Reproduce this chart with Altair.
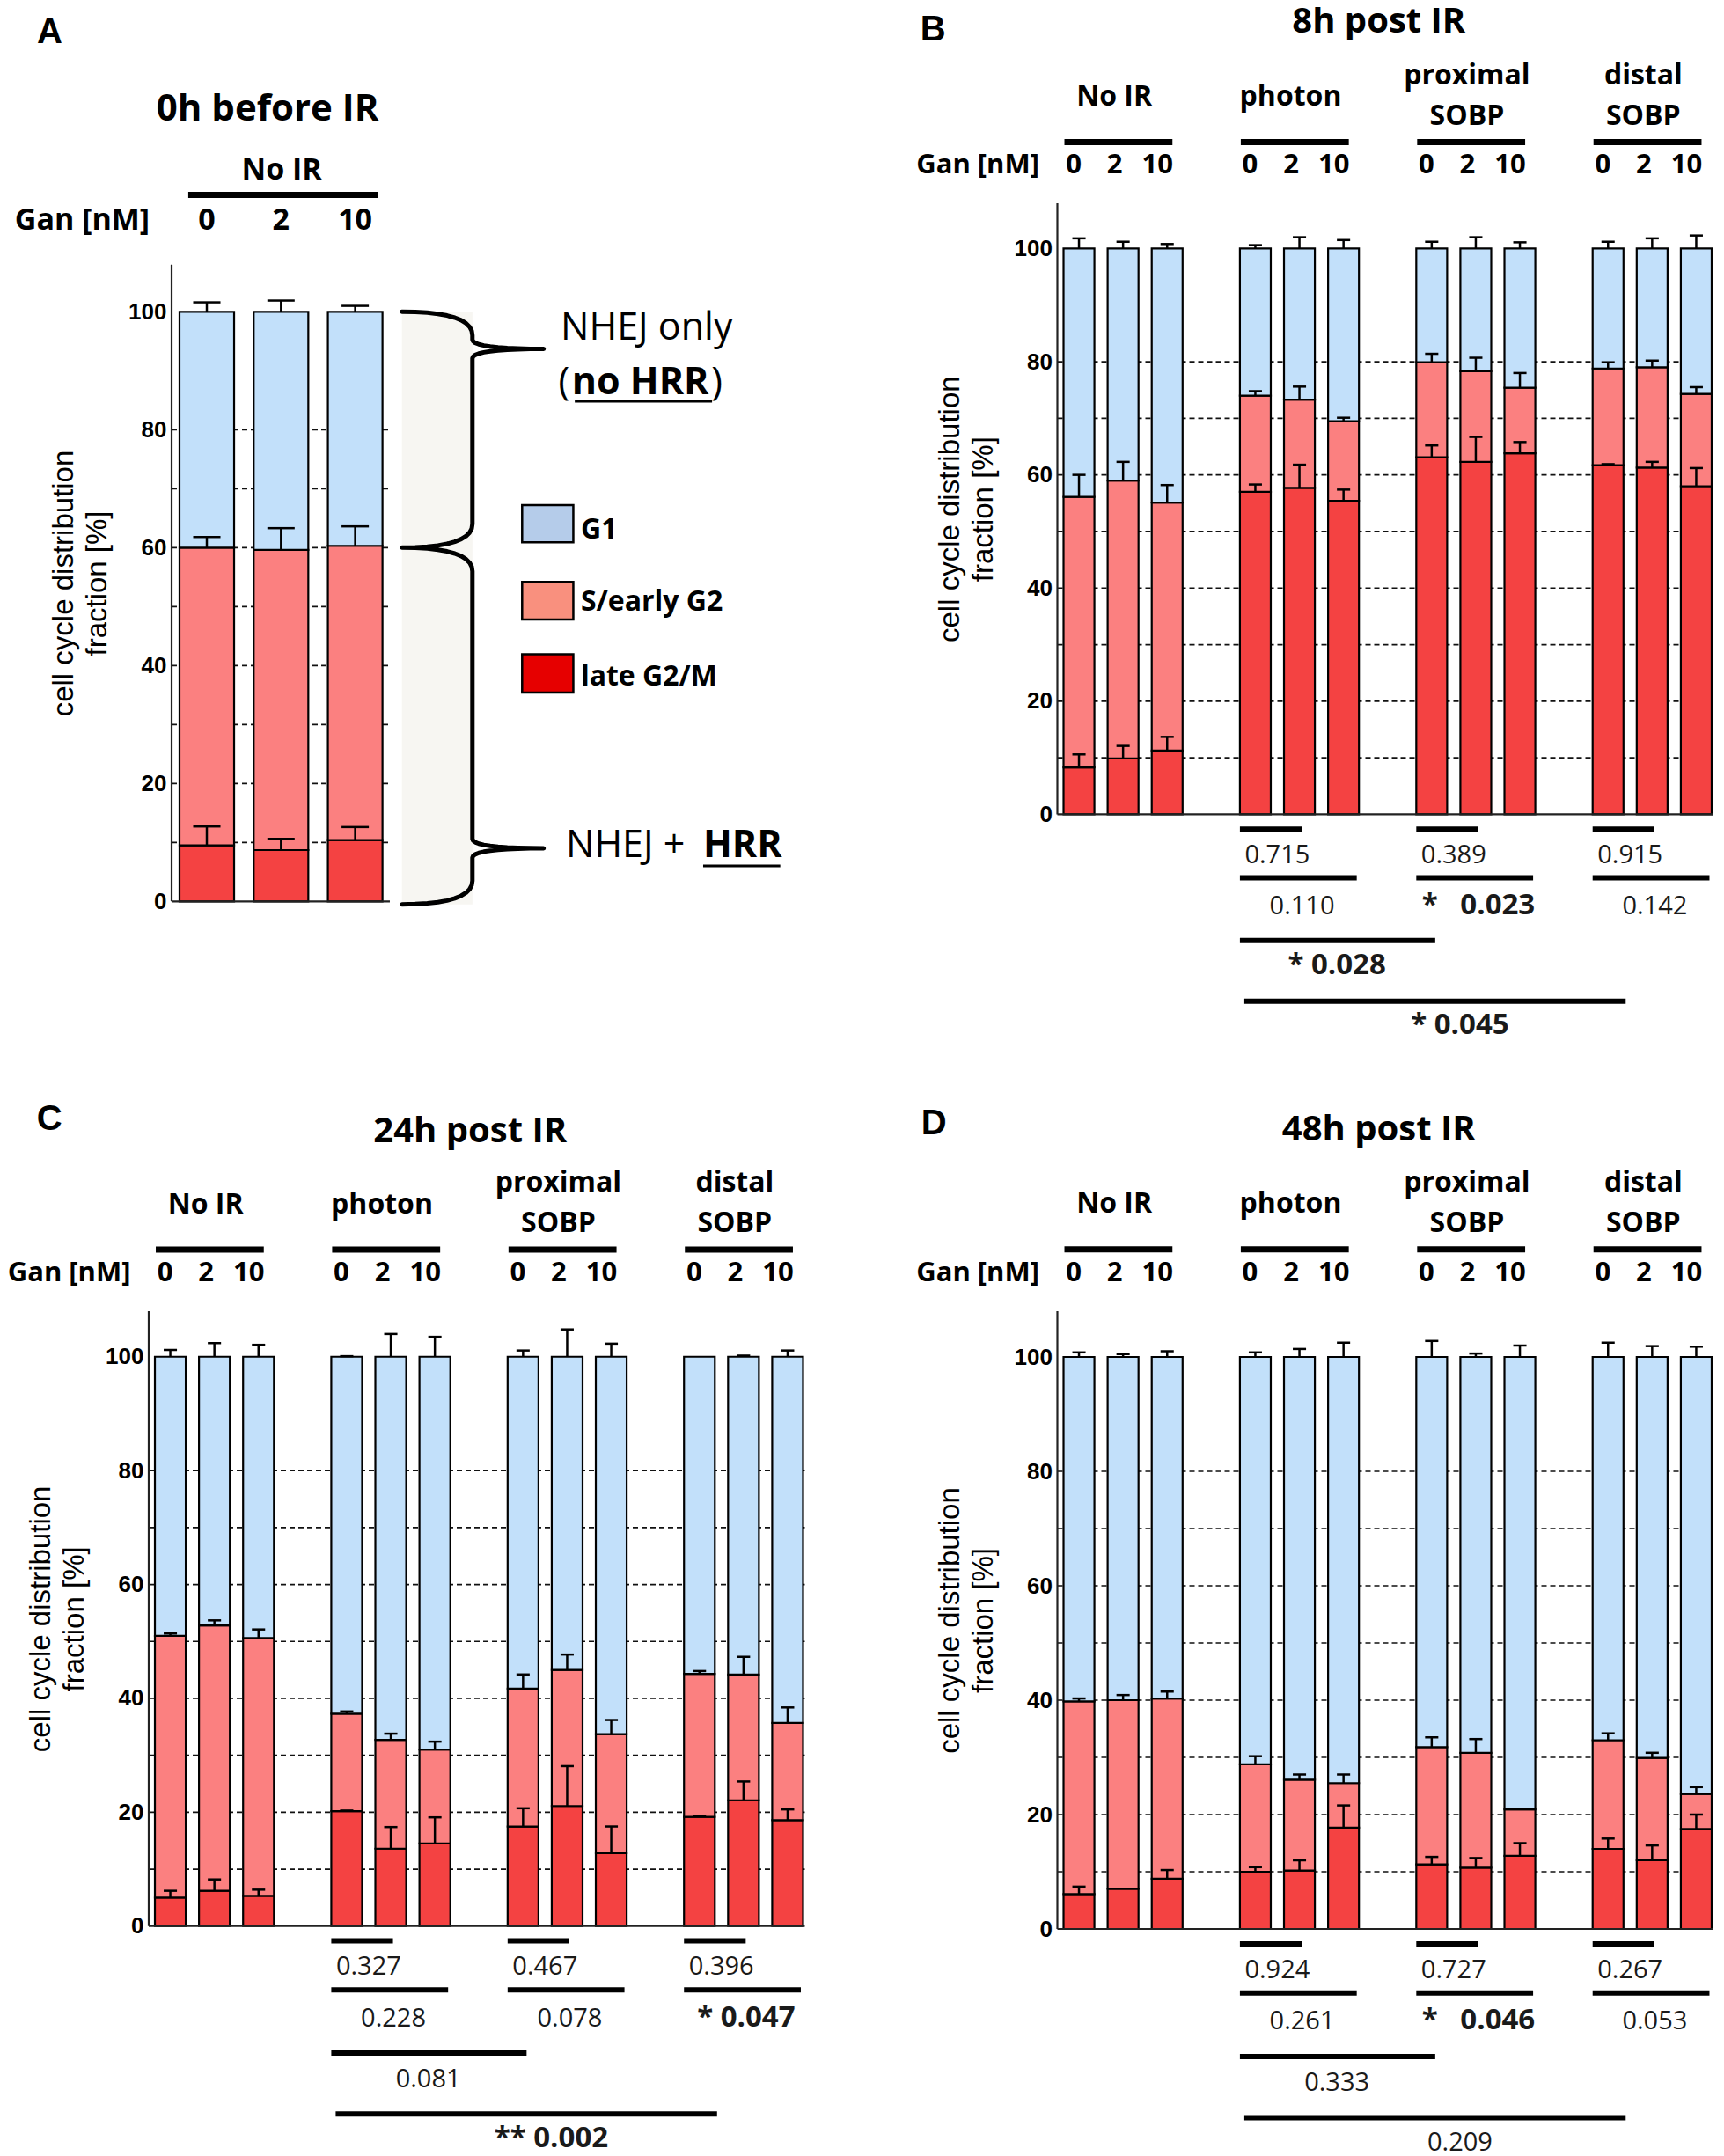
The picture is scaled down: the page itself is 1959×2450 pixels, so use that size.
import altair as alt
import pandas as pd

# ---------------- data ----------------
PHASES = ["late G2/M", "S/early G2", "G1"]
BAR_COLORS = ["#f44242", "#fb8080", "#c2e0fa"]
LEGEND_COLORS = ["#e60000", "#f9907e", "#b5ccea"]
DOSES = ["0", "2", "10"]
GROUPS = [["No IR"], ["photon"], ["proximal", "SOBP"], ["distal", "SOBP"]]
Y_TICKS = [0, 20, 40, 60, 80, 100]
GRID_LEVELS = [10, 20, 30, 40, 50, 60, 70, 80]
Y_TITLE = ["cell cycle distribution", "fraction [%]"]

# Panel A : 0h before IR (No IR, Gan 0/2/10)
A_LATE = [9.5, 8.7, 10.4]
A_S = [50.5, 50.9, 49.9]
A_G1 = [40.0, 40.4, 39.7]
A_LATE_SD = [3.2, 1.9, 2.2]
A_S_SD = [1.8, 3.7, 3.3]
A_G1_SD = [1.6, 1.9, 1.0]

# Panel B : 8h post IR  (No IR, photon, proximal SOBP, distal SOBP) x (0, 2, 10)
B_LATE = [8.3, 9.9, 11.3, 57.0, 57.7, 55.4, 63.1, 62.3, 63.8, 61.7, 61.3, 58.0]
B_S = [47.8, 49.1, 43.8, 17.0, 15.6, 14.1, 16.8, 16.0, 11.6, 17.1, 17.7, 16.3]
B_G1 = [43.9, 41.0, 44.9, 26.0, 26.7, 30.5, 20.1, 21.7, 24.6, 21.2, 21.0, 25.7]
B_LATE_SD = [2.3, 2.2, 2.4, 1.3, 4.1, 2.0, 2.1, 4.4, 2.0, 0.2, 1.0, 3.2]
B_S_SD = [3.9, 3.3, 3.1, 0.8, 2.3, 0.6, 1.5, 2.4, 2.6, 1.1, 1.2, 1.2]
B_G1_SD = [1.8, 1.2, 0.8, 0.6, 2.0, 1.5, 1.2, 2.0, 1.1, 1.2, 1.8, 2.3]
B_PAIR = [["0.715", "0.110"], ["0.389", "*\u00a0\u00a0\u00a00.023"], ["0.915", "0.142"]]
B_CROSS = ["* 0.028", "* 0.045"]

# Panel C : 24h post IR
C_LATE = [5.0, 6.2, 5.3, 20.2, 13.6, 14.5, 17.5, 21.1, 12.8, 19.2, 22.1, 18.6]
C_S = [46.0, 46.6, 45.3, 17.1, 19.1, 16.5, 24.2, 23.9, 20.9, 25.1, 22.1, 17.1]
C_G1 = [49.0, 47.2, 49.4, 62.7, 67.3, 69.0, 58.3, 55.0, 66.3, 55.7, 55.8, 64.3]
C_LATE_SD = [1.2, 2.0, 1.1, 0.1, 3.8, 4.6, 3.2, 7.0, 4.7, 0.2, 3.3, 1.9]
C_S_SD = [0.4, 0.9, 1.5, 0.4, 1.1, 1.4, 2.5, 2.7, 2.5, 0.5, 3.1, 2.7]
C_G1_SD = [1.2, 2.4, 2.1, 0.1, 4.0, 3.5, 1.1, 4.8, 2.3, 0.0, 0.2, 1.1]
C_PAIR = [["0.327", "0.228"], ["0.467", "0.078"], ["0.396", "*\u00a00.047"]]
C_CROSS = ["0.081", "** 0.002"]

# Panel D : 48h post IR
D_LATE = [6.1, 7.0, 8.8, 10.0, 10.2, 17.7, 11.3, 10.7, 12.8, 14.0, 12.0, 17.5]
D_S = [33.7, 33.0, 31.5, 18.8, 15.9, 7.8, 20.5, 20.1, 8.1, 19.0, 17.9, 6.1]
D_G1 = [60.2, 60.0, 59.7, 71.2, 73.9, 74.5, 68.2, 69.2, 79.1, 67.0, 70.1, 76.4]
D_LATE_SD = [1.3, 0.0, 1.5, 0.8, 1.8, 3.9, 1.3, 1.7, 2.2, 1.8, 2.6, 2.5]
D_S_SD = [0.5, 0.9, 1.2, 1.4, 0.9, 1.5, 1.7, 2.4, 0.0, 1.2, 0.9, 1.2]
D_G1_SD = [0.8, 0.5, 1.0, 0.8, 1.4, 2.5, 2.8, 0.6, 2.0, 2.5, 1.9, 1.8]
D_PAIR = [["0.924", "0.261"], ["0.727", "*\u00a0\u00a0\u00a00.046"], ["0.267", "0.053"]]
D_CROSS = ["0.333", "0.209"]

HEAD_FONT = "Open Sans"
AX_FONT = "Liberation Sans"


# ---------------- helpers ----------------
def quad_pts(p0, c, p1, n=10):
    pts = []
    for k in range(n + 1):
        t = k / n
        pts.append(((1 - t) ** 2 * p0[0] + 2 * (1 - t) * t * c[0] + t ** 2 * p1[0],
                    (1 - t) ** 2 * p0[1] + 2 * (1 - t) * t * c[1] + t ** 2 * p1[1]))
    return pts


def brace_pts(x0, x1, x2, ytop, ytip, ybot, r=4.0, rt=1.6):
    pts = []
    pts += quad_pts((x0, ytop), (x1, ytop), (x1, ytop - r))
    pts += quad_pts((x1, ytip + rt), (x1, ytip), (x2, ytip))
    pts += quad_pts((x2, ytip), (x1, ytip), (x1, ytip - rt))
    pts += quad_pts((x1, ybot + r), (x1, ybot), (x0, ybot))
    return pts


def bar_tables(late, s, g1, sds, slots, half, cap):
    rows, errs = [], []
    for i, slot in enumerate(slots):
        base = 0.0
        for phase, vals, sd in zip(PHASES, (late, s, g1), sds):
            top = base + vals[i]
            rows.append(dict(phase=phase, xl=slot - half, xr=slot + half, y0=base, y1=top))
            if sd[i] > 0:
                errs.append(dict(slot=slot, y1=top, etop=top + sd[i], cl=slot - cap, cr=slot + cap))
            base = top
    return pd.DataFrame(rows), pd.DataFrame(errs)


def panel(cfg):
    xs = alt.Scale(domain=cfg["xdom"], nice=False, zero=False)
    ys = alt.Scale(domain=[0, cfg["ytop"]], nice=False, zero=False)
    akw = dict(values=Y_TICKS, domain=False, ticks=False, grid=False,
               labelFont=AX_FONT, labelFontWeight="bold", labelFontSize=26,
               labelColor="black", labelPadding=6,
               title=Y_TITLE, titleFont=AX_FONT, titleFontSize=33, titleFontWeight="normal",
               titleColor="black", titlePadding=18, titleLineHeight=38,
               offset=cfg["axis_offset"])
    if "title_y_px" in cfg:
        akw["titleY"] = cfg["title_y_px"]
    yaxis = alt.Axis(**akw)

    def X(f):
        return alt.X(f, type="quantitative", scale=xs, axis=None)

    def Y(f):
        return alt.Y(f, type="quantitative", scale=ys, axis=yaxis)

    def text_layer(rows, **kw):
        df = pd.DataFrame(rows, columns=["x", "y", "t"])
        props = dict(baseline="alphabetic", color="black", font=HEAD_FONT)
        props.update(kw)
        return alt.Chart(df).mark_text(**props).encode(x=X("x"), y=Y("y"), text="t:N")

    def hrule_layer(rows, **kw):
        df = pd.DataFrame(rows, columns=["x", "x2", "y"])
        props = dict(color="black")
        props.update(kw)
        return alt.Chart(df).mark_rule(**props).encode(x=X("x"), x2="x2", y=Y("y"))

    ax = cfg["axis_x"]
    layers = []
    # dashed reference lines
    layers.append(hrule_layer([(ax, cfg["grid_end"], v) for v in GRID_LEVELS],
                              strokeDash=[6, 4], strokeWidth=1.7, color="#111111"))
    if "extra_bg" in cfg:
        layers += cfg["extra_bg"](X, Y)
    # bars
    bars, errs = bar_tables(cfg["late"], cfg["s"], cfg["g1"], cfg["sds"], cfg["slots"],
                            cfg["half"], cfg["cap"])
    layers.append(alt.Chart(bars).mark_bar(stroke="black", strokeWidth=2.2).encode(
        x=X("xl"), x2="xr", y=Y("y0"), y2="y1",
        color=alt.Color("phase:N", scale=alt.Scale(domain=PHASES, range=BAR_COLORS), legend=None)))
    # error bars (upper half)
    layers.append(alt.Chart(errs).mark_rule(color="black", strokeWidth=2.5).encode(
        x=X("slot"), y=Y("y1"), y2="etop"))
    layers.append(alt.Chart(errs).mark_rule(color="black", strokeWidth=2.5).encode(
        x=X("cl"), x2="cr", y=Y("etop")))
    # axis lines
    layers.append(alt.Chart(pd.DataFrame({"x": [ax], "y": [0], "y2": [108]})).mark_rule(
        color="#222222", strokeWidth=2.2).encode(x=X("x"), y=Y("y"), y2="y2"))
    layers.append(hrule_layer([(ax, cfg["grid_end"], 0)], color="#222222", strokeWidth=2.2))

    # header
    layers.append(text_layer([(cfg["letter_x"], cfg["letter_y"], cfg["letter"])],
                             font=AX_FONT, fontWeight="bold", fontSize=40, align="left"))
    layers.append(text_layer([(cfg["title_x"], cfg["title_y"], cfg["title"])],
                             fontWeight="bold", fontSize=cfg["title_size"], align="center"))
    grows = []
    for gx, lines in zip(cfg["group_x"], cfg["groups"]):
        if len(lines) == 1:
            grows.append((gx, cfg["group_single_y"], lines[0]))
        else:
            grows.append((gx, cfg["group_double_y"][0], lines[0]))
            grows.append((gx, cfg["group_double_y"][1], lines[1]))
    layers.append(text_layer(grows, fontWeight="bold", fontSize=cfg["group_size"], align="center"))
    layers.append(hrule_layer([(a, b, cfg["group_line_y"]) for a, b in cfg["group_lines"]],
                              strokeWidth=7))
    layers.append(text_layer([(cfg["gan_x"], cfg["gan_y"], "Gan [nM]")],
                             fontWeight="bold", fontSize=cfg["gan_size"], align="right"))
    drows = []
    for k, slot in enumerate(cfg["slots"]):
        d = k % 3
        drows.append((slot + cfg["dose_dx"][d], cfg["gan_y"], DOSES[d]))
    layers.append(text_layer(drows, fontWeight="bold", fontSize=cfg["gan_size"], align="center"))

    # significance brackets
    if "pair" in cfg:
        lev = [-2.6, -11.2, -22.3, -33.0]
        tb = [-8.6, -17.6, -28.3, -38.8]
        brs, reg, bold = [], [], []
        for gi, (p1, p2) in enumerate(cfg["pair"]):
            g = 4 * (gi + 1)
            brs.append((g - 0.35, g + 1.05, lev[0]))
            brs.append((g - 0.35, g + 2.3, lev[1]))
            (bold if "*" in p1 else reg).append((g - 0.24, tb[0], p1, "left"))
            (bold if "*" in p2 else reg).append((g + 1.06, tb[1], p2, "center"))
        brs.append((3.65, 8.08, lev[2]))
        brs.append((3.75, 12.4, lev[3]))
        c1, c2 = cfg["cross"]
        (bold if "*" in c1 else reg).append((5.85, tb[2], c1, "center"))
        (bold if "*" in c2 else reg).append((8.64, tb[3], c2, "center"))
        layers.append(hrule_layer(brs, strokeWidth=6))
        for rows, fw, fs in ((reg, "normal", 29), (bold, "bold", 33)):
            for al in ("left", "center"):
                sub = [(a, b, c) for a, b, c, d in rows if d == al]
                if sub:
                    layers.append(text_layer(sub, fontWeight=fw, fontSize=fs, align=al,
                                             color="#1a1a1a"))
    if "extra_fg" in cfg:
        layers += cfg["extra_fg"](X, Y, text_layer, hrule_layer)

    return alt.layer(*layers).properties(width=cfg["width"], height=cfg["height"])


# ---------------- panel A extras (brace, legend, annotations) ----------------
BRACE_X = (2.63, 3.58, 4.54)
BRACES = [(100, 93.7, 60), (60, 9.0, -0.5)]
LEGEND_Y = [(67.2, 60.9, 61.6), (54.2, 47.8, 49.3), (41.9, 35.4, 36.6)]


def a_background(X, Y):
    df = pd.DataFrame({"x": [BRACE_X[0]], "x2": [BRACE_X[1]], "y": [-0.5], "y2": [100]})
    return [alt.Chart(df).mark_rect(fill="#f7f6f2").encode(x=X("x"), x2="x2", y=Y("y"), y2="y2")]


def a_foreground(X, Y, text_layer, hrule_layer):
    out = []
    pts = []
    for ytop, ytip, ybot in BRACES:
        pts += brace_pts(BRACE_X[0], BRACE_X[1], BRACE_X[2], ytop, ytip, ybot)
    bdf = pd.DataFrame({"x": [p[0] for p in pts], "y": [p[1] for p in pts], "i": list(range(len(pts)))})
    out.append(alt.Chart(bdf).mark_line(color="black", strokeWidth=5, strokeJoin="round",
                                        strokeCap="round").encode(
        x=X("x"), y=Y("y"), order="i:Q"))
    # legend (G1, S/early G2, late G2/M from top to bottom)
    for (y1, y2, yt), col in zip(LEGEND_Y, LEGEND_COLORS[::-1]):
        df = pd.DataFrame({"x": [4.25], "x2": [4.94], "y": [y1], "y2": [y2]})
        out.append(alt.Chart(df).mark_rect(fill=col, stroke="black", strokeWidth=2.5).encode(
            x=X("x"), x2="x2", y=Y("y"), y2="y2"))
    out.append(text_layer([(5.04, yt, name) for (y1, y2, yt), name in zip(LEGEND_Y, PHASES[::-1])],
                          fontWeight="bold", fontSize=32, align="left"))
    # NHEJ annotations
    out.append(text_layer([(4.77, 95.2, "NHEJ only"), (4.74, 86.0, "("), (6.80, 86.0, ")"),
                           (4.84, 7.5, "NHEJ +")], fontSize=43, align="left"))
    out.append(text_layer([(4.92, 86.0, "no HRR"), (6.69, 7.5, "HRR")],
                          fontWeight="bold", fontSize=43, align="left"))
    out.append(hrule_layer([(4.96, 6.81, 84.8), (6.69, 7.73, 6.0)], strokeWidth=3))
    return out


# ---------------- build panels ----------------
SLOTS12 = [4 * g + d for g in range(4) for d in range(3)]
XDOM12 = [-0.49, 14.39]
W12 = (XDOM12[1] - XDOM12[0]) * 50.1

cfg_a = dict(
    letter="A", letter_x=-2.29, letter_y=145.5,
    title="0h before IR", title_x=0.82, title_y=132.5, title_size=42,
    groups=[["No IR"]], group_x=[1.01], group_single_y=122.5, group_double_y=(0, 0),
    group_size=34, group_lines=[(-0.25, 2.31)], group_line_y=119.8,
    gan_x=-0.77, gan_y=113.9, gan_size=34, dose_dx=[0.0, 0.0, 0.0],
    late=A_LATE, s=A_S, g1=A_G1, sds=(A_LATE_SD, A_S_SD, A_G1_SD),
    slots=[0, 1, 2], half=0.368, cap=0.184,
    xdom=[-0.783, -0.783 + W12 / 84.3], ytop=118.4,
    axis_x=-0.4745, axis_offset=-26, grid_end=2.467, title_y_px=431.5,
    width=W12, height=118.4 * 6.7,
    extra_bg=a_background, extra_fg=a_foreground,
)


def tp_cfg(letter, letter_x, letter_y, title, title_y, late, s, g1, sds, pair, cross, pxu):
    return dict(
        letter=letter, letter_x=letter_x, letter_y=letter_y,
        title=title, title_x=6.8, title_y=title_y, title_size=40,
        groups=GROUPS, group_x=[4 * g + 0.8 for g in range(4)], group_single_y=125.2,
        group_double_y=(129.0, 121.9), group_size=32,
        group_lines=[(4 * g - 0.33, 4 * g + 2.12) for g in range(4)], group_line_y=118.8,
        gan_x=-0.9, gan_y=113.3, gan_size=31, dose_dx=[-0.12, -0.19, -0.22],
        late=late, s=s, g1=g1, sds=sds, slots=SLOTS12, half=0.35, cap=0.15,
        xdom=XDOM12, ytop=108, axis_x=XDOM12[0], axis_offset=0, grid_end=XDOM12[1],
        width=W12, height=108 * pxu, pair=pair, cross=cross,
    )


cfg_b = tp_cfg("B", -3.6, 136.7, "8h post IR", 138.2, B_LATE, B_S, B_G1,
               (B_LATE_SD, B_S_SD, B_G1_SD), B_PAIR, B_CROSS, 6.43)
cfg_c = tp_cfg("C", -3.03, 139.8, "24h post IR", 137.7, C_LATE, C_S, C_G1,
               (C_LATE_SD, C_S_SD, C_G1_SD), C_PAIR, C_CROSS, 6.47)
cfg_d = tp_cfg("D", -3.58, 139.0, "48h post IR", 137.8, D_LATE, D_S, D_G1,
               (D_LATE_SD, D_S_SD, D_G1_SD), D_PAIR, D_CROSS, 6.5)

chart = alt.concat(
    panel(cfg_a), panel(cfg_b), panel(cfg_c), panel(cfg_d),
    columns=2, spacing={"row": 465, "column": 286.5}, bounds="flush",
).properties(
    padding={"left": 0, "top": -4, "right": 0, "bottom": 0}
).configure_view(stroke=None)

chart.save("out.html", embed_options={"renderer": "svg", "actions": False})
